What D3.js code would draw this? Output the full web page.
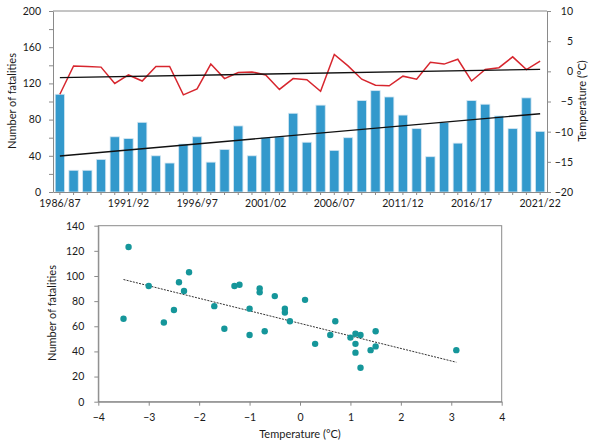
<!DOCTYPE html>
<html>
<head>
<meta charset="utf-8">
<script src="https://cdn.jsdelivr.net/npm/d3@7"></script>
<style>
body { margin: 0; background: #fff; }
text { font-family: Lato, sans-serif; fill: #1a1a1a; }
.axis path, .axis line { stroke: #8a8a8a; }
</style>
</head>
<body>
<div id="chart"></div>
<script>
var seasons = ['1986/87','1987/88','1988/89','1989/90','1990/91','1991/92','1992/93','1993/94','1994/95','1995/96',
  '1996/97','1997/98','1998/99','1999/00','2000/01','2001/02','2002/03','2003/04','2004/05','2005/06',
  '2006/07','2007/08','2008/09','2009/10','2010/11','2011/12','2012/13','2013/14','2014/15','2015/16',
  '2016/17','2017/18','2018/19','2019/20','2020/21','2021/22'];
var fatalities = [108,24,24,36,61,59,77,40,32,53,61,33,47,73,40,60,61,87,55,96,
  46,60,101,112,105,85,70,39,77,54,101,97,84,70,104,67];
var temperature = [-3.8,0.9,0.8,0.7,-2.0,-0.6,-1.6,0.8,0.8,-3.9,-2.9,1.2,-1.2,-0.2,-0.1,-0.6,-3.0,-1.2,-1.4,-3.3,
  2.8,0.9,-1.3,-2.3,-2.4,-0.8,-1.3,1.5,1.2,2.0,-1.6,0.3,0.6,2.4,0.3,1.7];
// trend lines: value at first and last season
var fatalTrend = [39.8, 86.5];
var tempTrend = [-1.05, 0.33];

// scatter: temperature vs fatalities
var scatterTemp = [-3.5,-3.4,-3.0,-2.7,-2.5,-2.4,-2.3,-2.2,-1.7,-1.5,-1.3,-1.2,-1.0,-1.0,-0.8,-0.8,-0.7,-0.5,
  -0.3,-0.3,-0.2,0.1,0.3,0.7,0.6,1.0,1.1,1.2,1.1,1.1,1.2,1.4,1.5,1.5,3.1];
var scatterFatal = [66,123,92,63,73,95,88,103,76,58,92,93,74,53,90,87,56,84,
  74,71,64,81,46,64,53,51,54,53,46,39,27,41,44,56,41];
var scatterTrend = [[-3.5, 97.2], [3.1, 31.4]];

var width = 600, height = 447;
var svg = d3.select('#chart').append('svg')
  .attr('width', width)
  .attr('height', height);

// ---------- top chart ----------
var x = d3.scaleBand().domain(seasons).range([53, 547]).paddingInner(0.32).paddingOuter(0.16);
var yLeft = d3.scaleLinear().domain([0, 200]).range([192, 11]);
var yRight = d3.scaleLinear().domain([-20, 10]).range([192, 11]);
var cx = function(i) { return x(seasons[i]) + x.bandwidth() / 2; };

svg.append('line')
  .attr('x1', 53).attr('x2', 547).attr('y1', 11).attr('y2', 11)
  .style('stroke', '#8a8a8a');

svg.selectAll('.bar')
  .data(fatalities)
  .enter()
  .append('rect')
  .attr('class', 'bar')
  .attr('x', function(d, i) { return x(seasons[i]); })
  .attr('width', x.bandwidth())
  .attr('y', function(d) { return yLeft(d); })
  .attr('height', function(d) { return yLeft(0) - yLeft(d); })
  .style('fill', '#3399cc')
  .style('stroke', '#d3e6f2')
  .style('stroke-width', 0.8);

svg.append('g').attr('class', 'axis')
  .attr('transform', 'translate(53,0)')
  .call(d3.axisLeft(yLeft).tickValues(d3.range(0, 201, 20)).tickSize(4).tickSizeOuter(0)
    .tickFormat(function(d) { return d % 40 === 0 ? d : ''; }))
  .call(function(g) { g.selectAll('text').attr('x', -12).style('font-size', '10.5px'); });

svg.append('g').attr('class', 'axis')
  .attr('transform', 'translate(547,0)')
  .call(d3.axisRight(yRight).tickValues(d3.range(-20, 11, 5)).tickSize(4).tickSizeOuter(0))
  .call(function(g) {
    g.selectAll('text').attr('x', 26).attr('text-anchor', 'end').style('font-size', '10.5px');
  });

svg.append('g').attr('class', 'axis')
  .attr('transform', 'translate(0,192)')
  .call(d3.axisBottom(x).tickSize(3).tickSizeOuter(0)
    .tickFormat(function(d, i) { return i % 5 === 0 ? d : ''; }))
  .call(function(g) { g.selectAll('text').attr('y', 8).style('font-size', '10.5px'); });

var tempLine = d3.line()
  .x(function(d, i) { return cx(i); })
  .y(function(d) { return yRight(d); });

svg.append('path')
  .datum(temperature)
  .attr('d', tempLine)
  .style('fill', 'none')
  .style('stroke', '#d7262e')
  .style('stroke-width', 1.5);

svg.append('line')
  .attr('x1', cx(0)).attr('x2', cx(seasons.length - 1))
  .attr('y1', yLeft(fatalTrend[0])).attr('y2', yLeft(fatalTrend[1]))
  .style('stroke', '#111').style('stroke-width', 1.4);

svg.append('line')
  .attr('x1', cx(0)).attr('x2', cx(seasons.length - 1))
  .attr('y1', yRight(tempTrend[0])).attr('y2', yRight(tempTrend[1]))
  .style('stroke', '#111').style('stroke-width', 1.4);

svg.append('text')
  .attr('transform', 'translate(16,101) rotate(-90)')
  .attr('text-anchor', 'middle')
  .style('font-size', '11px')
  .text('Number of fatalities');

svg.append('text')
  .attr('transform', 'translate(586,101) rotate(-90)')
  .attr('text-anchor', 'middle')
  .style('font-size', '11px')
  .text('Temperature (°C)');

// ---------- scatter ----------
var xs = d3.scaleLinear().domain([-4, 4]).range([98.3, 501.7]);
var ys = d3.scaleLinear().domain([0, 140]).range([401.7, 225.7]);

svg.append('rect')
  .attr('x', xs(-4)).attr('y', ys(140))
  .attr('width', xs(4) - xs(-4)).attr('height', ys(0) - ys(140))
  .style('fill', 'none').style('stroke', '#8a8a8a');

svg.append('g').attr('class', 'axis')
  .attr('transform', 'translate(' + xs(-4) + ',0)')
  .call(d3.axisLeft(ys).tickValues(d3.range(0, 141, 20)).tickSize(4).tickSizeOuter(0))
  .call(function(g) { g.selectAll('text').attr('x', -14).style('font-size', '10.5px'); });

svg.append('g').attr('class', 'axis')
  .attr('transform', 'translate(0,' + ys(0) + ')')
  .call(d3.axisBottom(xs).tickValues(d3.range(-4, 5, 1)).tickSize(4).tickSizeOuter(0))
  .call(function(g) { g.selectAll('text').attr('y', 12).style('font-size', '10.5px'); });

svg.append('line')
  .attr('x1', xs(scatterTrend[0][0])).attr('y1', ys(scatterTrend[0][1]))
  .attr('x2', xs(scatterTrend[1][0])).attr('y2', ys(scatterTrend[1][1]))
  .style('stroke', '#333').style('stroke-width', 1).style('stroke-dasharray', '2,1.2');

svg.selectAll('.dot')
  .data(scatterTemp)
  .enter()
  .append('circle')
  .attr('class', 'dot')
  .attr('cx', function(d) { return xs(d); })
  .attr('cy', function(d, i) { return ys(scatterFatal[i]); })
  .attr('r', 3.2)
  .style('fill', '#15969a');

svg.append('text')
  .attr('x', 300).attr('y', 438)
  .attr('text-anchor', 'middle')
  .style('font-size', '11px')
  .text('Temperature (°C)');

svg.append('text')
  .attr('transform', 'translate(56,313) rotate(-90)')
  .attr('text-anchor', 'middle')
  .style('font-size', '11px')
  .text('Number of fatalities');
</script>
</body>
</html>
